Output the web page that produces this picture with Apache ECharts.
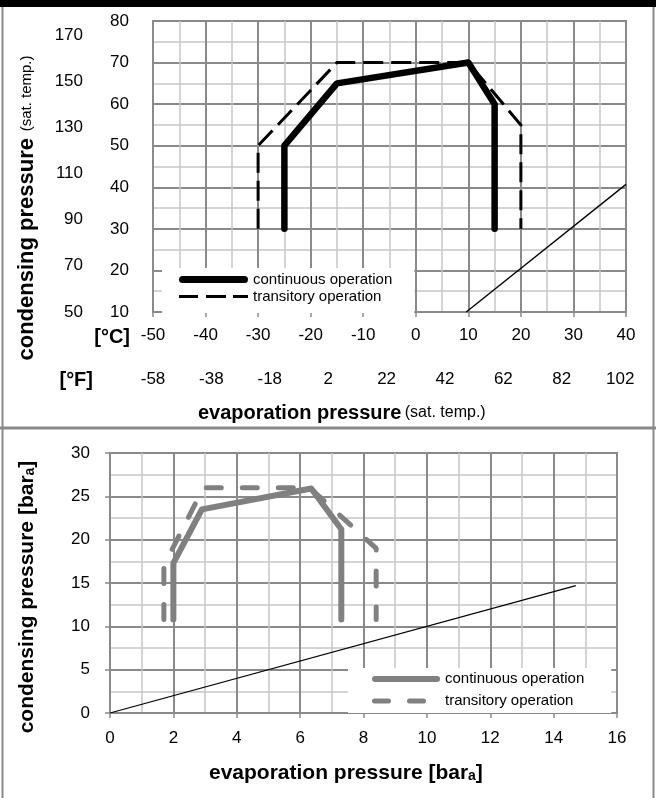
<!DOCTYPE html>
<html><head><meta charset="utf-8">
<script src="https://cdn.jsdelivr.net/npm/echarts@6/dist/echarts.min.js"></script>
<style>html,body{margin:0;padding:0;background:#fff}#c{width:656px;height:798px}</style>
</head><body><div id="c"></div>
<script>
// ---------- data ----------
const evapCelsiusTicks = [-50, -40, -30, -20, -10, 0, 10, 20, 30, 40];
const evapFahrenheitTicks = [-58, -38, -18, 2, 22, 42, 62, 82, 102];
const condCelsiusTicks = [10, 20, 30, 40, 50, 60, 70, 80];
const condFahrenheitTicks = [50, 70, 90, 110, 130, 150, 170];
const barEvapTicks = [0, 2, 4, 6, 8, 10, 12, 14, 16];
const barCondTicks = [0, 5, 10, 15, 20, 25, 30];

const tempContinuous = [[-25, 30], [-25, 50], [-15, 65], [10, 70], [15, 60], [15, 30]];
const tempTransitory = [[-30, 30], [-30, 50], [-15, 70], [10, 70], [20, 55], [20, 30]];
const tempRatioLine = [[9.6, 10], [40, 40.7]];

const barContinuous = [[2, 10.8], [2, 17.3], [2.9, 23.5], [6.35, 25.9], [7.3, 21.2], [7.3, 10.8]];
const barTransitory = [[1.7, 10.8], [1.7, 17], [2.95, 26], [6.3, 26], [8.4, 19], [8.4, 10.8]];
const barRatioLine = [[0, 0], [14.7, 14.7]];

// ---------- styles ----------
const DARK = '#8a8a8a', LIGHT = '#c6c6c6';
const SANS = "'Liberation Sans', Arial, sans-serif";
const first = a => a[0], last = a => a[a.length - 1];
const step = a => a[1] - a[0];

// legend icons (drawn in a frame of itemWidth x itemHeight)
const ICON_TOP_SOLID = 'path://M0,0M69,7M3.5,0H65.5A3.5,3.5,0,0,1,65.5,7H3.5A3.5,3.5,0,0,1,3.5,0Z';
const ICON_TOP_DASH = 'path://M0,0M69,7M0,2H19V5H0ZM27,2H47V5H27ZM54,2H69V5H54Z';
const ICON_BOT_SOLID = 'path://M0,0M68,6M3,0H65A3,3,0,0,1,65,6H3A3,3,0,0,1,3,0Z';
const ICON_BOT_DASH = 'path://M0,0M68,6M2.5,0.5H16.5A2.5,2.5,0,0,1,16.5,5.5H2.5A2.5,2.5,0,0,1,2.5,0.5ZM37.5,0.5H51.5A2.5,2.5,0,0,1,51.5,5.5H37.5A2.5,2.5,0,0,1,37.5,0.5Z';

function mainAxis(gridIndex, ticks, margin, extra) {
  return Object.assign({
    gridIndex, type: 'value', min: first(ticks), max: last(ticks), interval: step(ticks),
    axisLine: { show: true, lineStyle: { color: DARK, width: 2 } },
    axisTick: { show: true, length: 5, lineStyle: { color: DARK, width: 1.5 } },
    axisLabel: { color: '#000', fontSize: 17, fontFamily: SANS, margin, hideOverlap: false, showMinLabel: true, showMaxLabel: true },
    splitLine: { show: true, lineStyle: { color: DARK, width: 2 } },
    minorTick: { show: false, splitNumber: 2 },
    minorSplitLine: { show: true, lineStyle: { color: LIGHT, width: 1.5 } }
  }, extra || {});
}
function labelAxis(gridIndex, min, max, ticks, position, margin) {
  return {
    gridIndex, type: 'value', min, max, position,
    axisLine: { show: false }, axisTick: { show: false }, splitLine: { show: false },
    axisLabel: { customValues: ticks, color: '#000', fontSize: 17, fontFamily: SANS, margin, hideOverlap: false }
  };
}

const chart = echarts.init(document.getElementById('c'), null, { renderer: 'canvas' });
chart.setOption({
  animation: false,
  backgroundColor: '#fff',
  grid: [
    { left: 153, top: 21, width: 473, height: 291, show: true, borderColor: DARK, borderWidth: 2 },
    { left: 110, top: 453, width: 507, height: 260, show: true, borderColor: DARK, borderWidth: 2 }
  ],
  xAxis: [
    mainAxis(0, evapCelsiusTicks, 15, { position: 'bottom' }),
    labelAxis(0, -58, 104, evapFahrenheitTicks, 'bottom', 59),
    mainAxis(1, barEvapTicks, 17, { position: 'bottom' })
  ],
  yAxis: [
    mainAxis(0, condCelsiusTicks, 24, { position: 'left' }),
    labelAxis(0, 50, 176, condFahrenheitTicks, 'left', 70),
    mainAxis(1, barCondTicks, 20, { position: 'left' })
  ],
  legend: [
    {
      data: [{ name: 'continuous operation', icon: ICON_TOP_SOLID }, { name: 'transitory operation', icon: ICON_TOP_DASH }],
      left: 162, top: 268, orient: 'vertical', backgroundColor: '#fff', symbolKeepAspect: true,
      padding: [3, 22, 8, 17], itemWidth: 69, itemHeight: 7, itemGap: 0, selectedMode: false,
      itemStyle: { borderWidth: 0 },
      textStyle: { fontFamily: SANS, fontSize: 15, color: '#000', lineHeight: 17 }
    },
    {
      data: [{ name: 'continuous operation [bar]', icon: ICON_BOT_SOLID }, { name: 'transitory operation [bar]', icon: ICON_BOT_DASH }],
      formatter: n => n.replace(' [bar]', ''),
      left: 348, top: 668, orient: 'vertical', backgroundColor: '#fff', symbolKeepAspect: true,
      padding: [0, 27, 1, 24], itemWidth: 68, itemHeight: 6, itemGap: 0, selectedMode: false,
      itemStyle: { borderWidth: 0 },
      textStyle: { fontFamily: SANS, fontSize: 15, color: '#000', lineHeight: 22 }
    }
  ],
  series: [
    { type: 'line', name: 'transitory operation', xAxisIndex: 0, yAxisIndex: 0, data: tempTransitory, symbol: 'none',
      itemStyle: { color: '#000' }, lineStyle: { color: '#000', width: 3, type: [20, 8], join: 'miter' } },
    { type: 'line', name: 'continuous operation', xAxisIndex: 0, yAxisIndex: 0, data: tempContinuous, symbol: 'none',
      itemStyle: { color: '#000' }, lineStyle: { color: '#000', width: 6.5, cap: 'round', join: 'round' } },
    { type: 'line', name: 'ratio', xAxisIndex: 0, yAxisIndex: 0, data: tempRatioLine, symbol: 'none', silent: true,
      lineStyle: { color: '#000', width: 1.3 } },
    { type: 'line', name: 'transitory operation [bar]', xAxisIndex: 2, yAxisIndex: 2, data: barTransitory, symbol: 'none',
      itemStyle: { color: '#808080' }, lineStyle: { color: '#808080', width: 5, type: [15, 21], cap: 'round', join: 'round' } },
    { type: 'line', name: 'continuous operation [bar]', xAxisIndex: 2, yAxisIndex: 2, data: barContinuous, symbol: 'none',
      itemStyle: { color: '#808080' }, lineStyle: { color: '#808080', width: 6, cap: 'round', join: 'round' } },
    { type: 'line', name: 'ratio bar', xAxisIndex: 2, yAxisIndex: 2, data: barRatioLine, symbol: 'none', silent: true,
      lineStyle: { color: '#000', width: 1.2 } }
  ],
  graphic: [
    { type: 'rect', shape: { x: 0, y: 0, width: 656, height: 7 }, style: { fill: '#000' }, z: 10 },
    { type: 'line', shape: { x1: 2.5, y1: 7, x2: 2.5, y2: 798 }, style: { stroke: DARK, lineWidth: 2 }, z: 10 },
    { type: 'line', shape: { x1: 653.5, y1: 7, x2: 653.5, y2: 798 }, style: { stroke: DARK, lineWidth: 2 }, z: 10 },
    { type: 'line', shape: { x1: 0, y1: 428, x2: 656, y2: 428 }, style: { stroke: DARK, lineWidth: 3 }, z: 10 },
    { type: 'text', x: 130, y: 337, style: { text: '[°C]', font: 'bold 20px ' + SANS, fill: '#000', textAlign: 'right', textVerticalAlign: 'middle' } },
    { type: 'text', x: 93, y: 380, style: { text: '[°F]', font: 'bold 20px ' + SANS, fill: '#000', textAlign: 'right', textVerticalAlign: 'middle' } },
    { type: 'text', x: 198, y: 413, style: {
        text: '{b|evaporation pressure} {s|(sat. temp.)}', textAlign: 'left', textVerticalAlign: 'middle',
        rich: { b: { fontFamily: SANS, fontWeight: 'bold', fontSize: 20, fill: '#000' }, s: { fontFamily: SANS, fontSize: 16, fill: '#000' } } } },
    { type: 'text', x: 27, y: 208, rotation: Math.PI / 2, style: {
        text: '{b|condensing pressure}  {s|(sat. temp.)}', textAlign: 'center', textVerticalAlign: 'middle',
        rich: { b: { fontFamily: SANS, fontWeight: 'bold', fontSize: 22, fill: '#000' }, s: { fontFamily: SANS, fontSize: 15, fill: '#000' } } } },
    { type: 'text', x: 209, y: 773, style: {
        text: '{b|evaporation pressure [bar}{a|a}{b|]}', textAlign: 'left', textVerticalAlign: 'middle',
        rich: { b: { fontFamily: SANS, fontWeight: 'bold', fontSize: 21, fill: '#000' }, a: { fontFamily: SANS, fontWeight: 'bold', fontSize: 14, fill: '#000', padding: [6, 0, 0, 0] } } } },
    { type: 'text', x: 27, y: 597, rotation: Math.PI / 2, style: {
        text: '{b|condensing pressure [bar}{a|a}{b|]}', textAlign: 'center', textVerticalAlign: 'middle',
        rich: { b: { fontFamily: SANS, fontWeight: 'bold', fontSize: 21, fill: '#000' }, a: { fontFamily: SANS, fontWeight: 'bold', fontSize: 14, fill: '#000', padding: [6, 0, 0, 0] } } } }
  ]
});
</script></body></html>
